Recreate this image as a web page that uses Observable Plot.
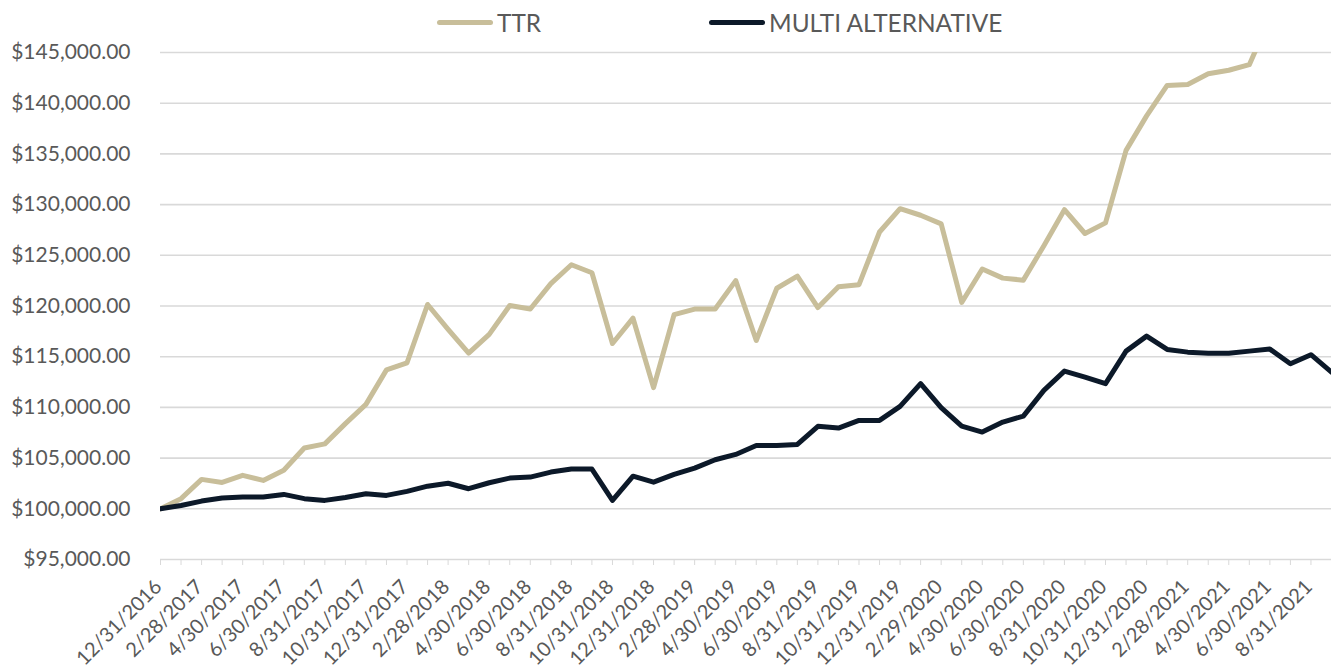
<!DOCTYPE html>
<html>
<head>
<meta charset="utf-8">
<script src="https://cdn.jsdelivr.net/npm/d3@7"></script>
<script src="https://cdn.jsdelivr.net/npm/@observablehq/plot@0.6"></script>
<style>
  html, body { margin: 0; padding: 0; background: #fff; }
  #wrap { position: relative; width: 1331px; height: 669px; font-family: Lato, sans-serif; }
  .leg { position: absolute; top: 7px; height: 30px; display: flex; align-items: center; color: #595959; font-size: 24.4px; }
  .sw { width: 56px; height: 5px; border-radius: 3px; margin-right: 4px; }
  #chart { position: absolute; left: 0; top: 0; }
</style>
</head>
<body>
<div id="wrap">
  <div id="chart"></div>
  <div class="leg" style="left:437px"><div class="sw" style="background:#c8be9a"></div><span>TTR</span></div>
  <div class="leg" style="left:709px"><div class="sw" style="background:#0c1929"></div><span>MULTI ALTERNATIVE</span></div>
</div>
<script>
const dates = [
  "12/31/2016",
  "1/31/2017","2/28/2017","3/31/2017","4/30/2017","5/31/2017","6/30/2017","7/31/2017","8/31/2017","9/30/2017","10/31/2017","11/30/2017","12/31/2017",
  "1/31/2018","2/28/2018","3/31/2018","4/30/2018","5/31/2018","6/30/2018","7/31/2018","8/31/2018","9/30/2018","10/31/2018","11/30/2018","12/31/2018",
  "1/31/2019","2/28/2019","3/31/2019","4/30/2019","5/31/2019","6/30/2019","7/31/2019","8/31/2019","9/30/2019","10/31/2019","11/30/2019","12/31/2019",
  "1/31/2020","2/29/2020","3/31/2020","4/30/2020","5/31/2020","6/30/2020","7/31/2020","8/31/2020","9/30/2020","10/31/2020","11/30/2020","12/31/2020",
  "1/31/2021","2/28/2021","3/31/2021","4/30/2021","5/31/2021","6/30/2021","7/31/2021","8/31/2021","9/30/2021"
];
const ttr = [
  100000,
  101000,102900,102600,103300,102800,103800,106000,106400,108400,110300,113700,114400,
  120150,117700,115350,117200,120050,119700,122200,124070,123280,116300,118800,111950,
  119150,119700,119700,122500,116600,121750,122950,119850,121900,122100,127300,129600,
  128950,128100,120350,123650,122750,122550,125950,129500,127150,128200,135350,138750,
  141750,141850,142900,143250,143800,148400,149000,150200,149300
];
const multi = [
  100000,
  100330,100760,101060,101160,101160,101420,101000,100830,101120,101490,101320,101720,
  102230,102520,101980,102570,103030,103130,103620,103920,103920,100830,103220,102630,
  103390,104010,104840,105360,106250,106250,106350,108130,107960,108720,108720,110100,
  112340,109970,108160,107570,108550,109140,111680,113580,112990,112340,115550,117030,
  115720,115450,115350,115350,115550,115750,114310,115200,113480
];
const yTicks = [95000,100000,105000,110000,115000,120000,125000,130000,135000,140000,145000];
const seriesNames = ["TTR", "MULTI ALTERNATIVE"];
const seriesColors = ["#c8be9a", "#0c1929"];

const labelDates = dates.filter((d, i) => i % 2 === 0);

const rows = [];
dates.forEach((d, i) => {
  rows.push({date: d, value: ttr[i], series: seriesNames[0]});
});
dates.forEach((d, i) => {
  rows.push({date: d, value: multi[i], series: seriesNames[1]});
});

const fmt = d3.format("$,.2f");
const chart = Plot.plot({
  width: 1331,
  height: 669,
  marginLeft: 160,
  marginRight: 0,
  marginTop: 52,
  marginBottom: 110,
  style: {fontFamily: "Lato, sans-serif", fontSize: "21px", color: "#595959", background: "#fff"},
  x: {type: "point", domain: dates, padding: 0},
  y: {domain: [95000, 145000]},
  color: {domain: seriesNames, range: seriesColors},
  marks: [
    Plot.gridY(yTicks, {stroke: "#d9d9d9", strokeOpacity: 1, strokeWidth: 1.6}),
    Plot.axisY(yTicks, {tickSize: 0, tickPadding: 30, tickFormat: fmt, fontSize: 21, fill: "#595959", label: null}),
    Plot.axisX(dates, {tickSize: 6, stroke: "#d9d9d9", strokeOpacity: 1, tickFormat: () => "", label: null}),
    Plot.text(labelDates, {x: d => d, frameAnchor: "bottom", rotate: -45, textAnchor: "end", lineAnchor: "middle",
      dx: -2, dy: 24, fontSize: 20, fill: "#595959"}),
    Plot.line(rows, {x: "date", y: "value", z: "series", stroke: "series", strokeWidth: 5, strokeLinejoin: "round", strokeLinecap: "round", clip: true})
  ]
});
document.getElementById("chart").appendChild(chart);
</script>
</body>
</html>
